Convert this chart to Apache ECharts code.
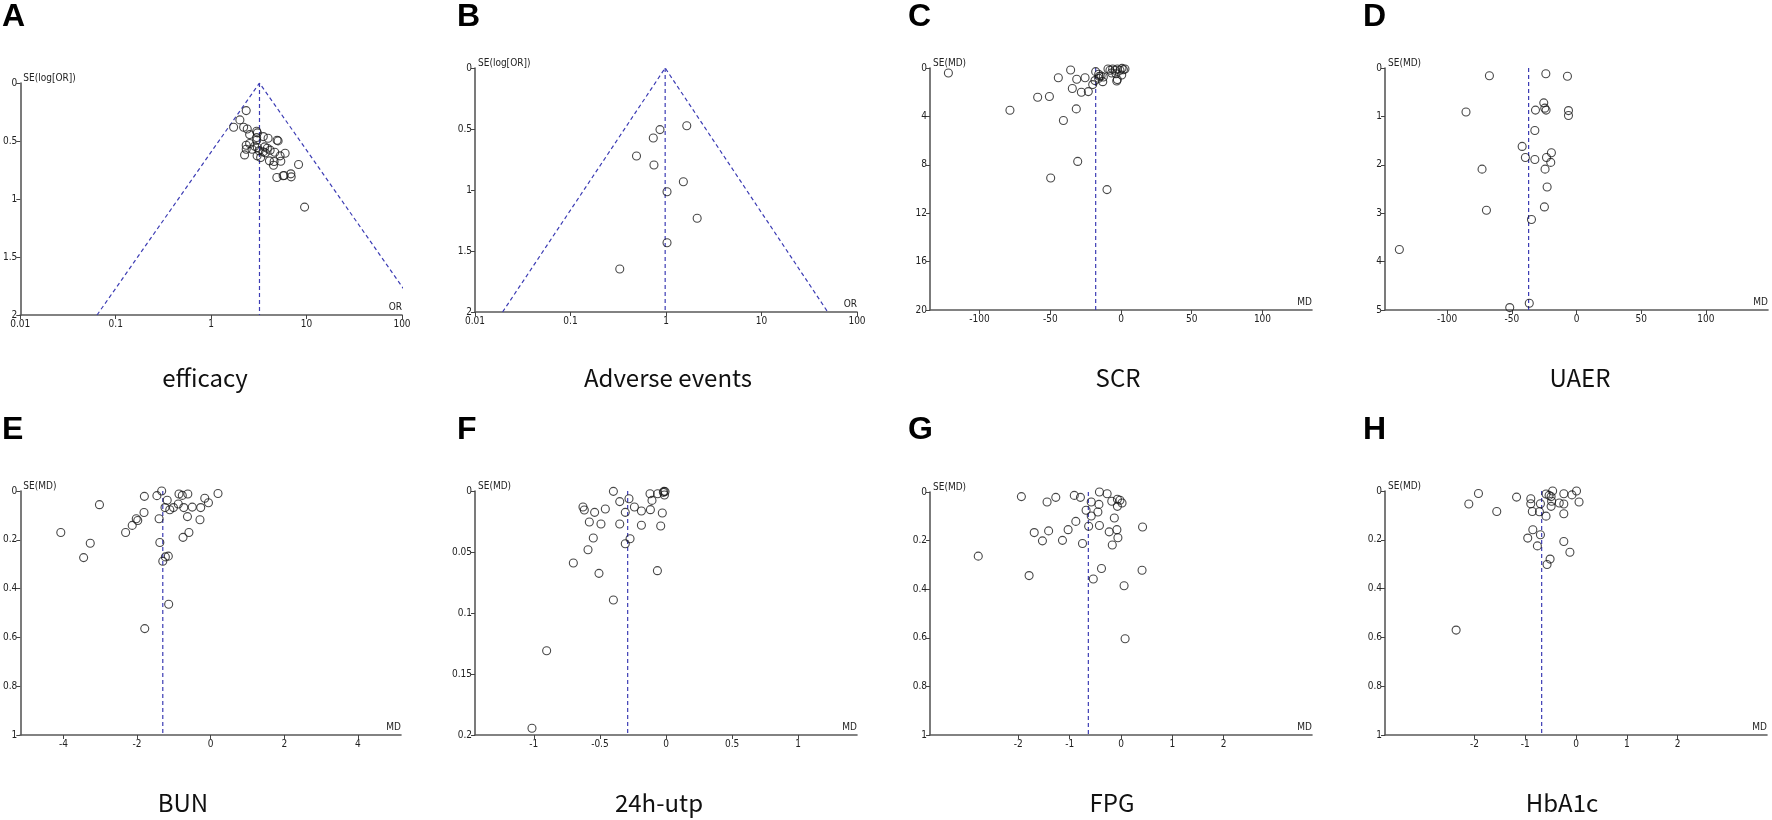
<!DOCTYPE html>
<html><head><meta charset="utf-8">
<script src="https://cdn.jsdelivr.net/npm/echarts@6/dist/echarts.min.js"></script>
<style>html,body{margin:0;padding:0;background:#fff}#c{width:1772px;height:820px}</style>
</head><body><div id="c"></div>
<script>
// ---------- DATA ----------
// [effect, SE]
const efficacyPoints = [[2.33,0.238],[2.0,0.318],[1.72,0.382],[2.19,0.382],[2.39,0.396],[3.0,0.416],[3.05,0.43],[2.53,0.445],[3.0,0.470],[3.52,0.462],[3.95,0.476],[4.91,0.493],[5.03,0.499],[3.0,0.493],[2.53,0.522],[2.33,0.536],[2.86,0.545],[3.05,0.556],[3.64,0.551],[3.88,0.562],[4.15,0.579],[2.33,0.571],[2.68,0.571],[3.18,0.585],[3.50,0.594],[3.70,0.602],[4.64,0.597],[5.96,0.605],[5.28,0.628],[2.24,0.620],[3.03,0.628],[3.30,0.643],[4.08,0.671],[4.57,0.677],[5.37,0.674],[4.50,0.709],[8.24,0.703],[4.88,0.815],[5.68,0.800],[5.82,0.797],[6.84,0.783],[6.90,0.809],[9.53,1.070]];
const adversePoints = [[1.65,0.473],[0.865,0.505],[0.736,0.574],[0.491,0.721],[0.748,0.795],[1.52,0.932],[1.025,1.014],[2.12,1.232],[1.025,1.432],[0.328,1.648]];
const scrPoints = [[-122.0,0.41],[-78.5,3.49],[-58.9,2.42],[-50.6,2.36],[-44.3,0.80],[-35.6,0.16],[-31.3,0.93],[-25.4,0.80],[-34.4,1.70],[-28.0,2.0],[-23.1,1.95],[-20.0,1.37],[-31.6,3.38],[-40.7,4.34],[-30.6,7.72],[-49.7,9.09],[-9.9,10.05],[-17.9,0.30],[-18.4,1.04],[-15.8,0.52],[-15.3,0.68],[-12.9,1.13],[-14.1,0.66],[-15.8,0.85],[-12.5,0.74],[-9.2,0.08],[-7.8,0.19],[-5.9,0.08],[-4.2,0.19],[-2.6,0.08],[-0.7,0.19],[0.7,0.03],[1.7,0.14],[2.8,0.08],[-6.6,0.41],[-3.5,0.47],[0.5,0.58],[-3.0,1.07],[-2.6,0.96]];
const uaerPoints = [[-67.3,0.16],[-23.7,0.12],[-7.0,0.17],[-85.4,0.91],[-25.3,0.72],[-24.5,0.83],[-23.5,0.87],[-31.7,0.87],[-6.2,0.88],[-6.2,0.98],[-32.2,1.29],[-42.0,1.62],[-19.4,1.75],[-39.5,1.85],[-32.2,1.89],[-23.2,1.85],[-19.9,1.95],[-73.0,2.09],[-24.3,2.09],[-22.7,2.46],[-69.6,2.94],[-24.8,2.87],[-34.8,3.13],[-136.9,3.75],[-51.6,4.95],[-36.5,4.86]];
const bunPoints = [[-4.07,0.170],[-3.45,0.273],[-3.27,0.214],[-3.02,0.056],[-2.31,0.170],[-2.13,0.141],[-2.02,0.114],[-1.98,0.121],[-1.81,0.088],[-1.80,0.022],[-1.46,0.019],[-1.33,0.0],[-1.40,0.114],[-1.38,0.211],[-1.30,0.288],[-1.23,0.270],[-1.15,0.267],[-1.14,0.464],[-1.79,0.564],[-1.18,0.038],[-1.24,0.068],[-1.11,0.077],[-1.01,0.068],[-0.88,0.053],[-0.86,0.012],[-0.77,0.018],[-0.62,0.012],[-0.73,0.068],[-0.50,0.066],[-0.63,0.105],[-0.75,0.190],[-0.59,0.170],[-0.29,0.118],[-0.27,0.068],[-0.16,0.030],[-0.06,0.048],[0.20,0.010]];
const utpPoints = [[-0.398,0.0003],[-0.350,0.0087],[-0.280,0.0063],[-0.628,0.0131],[-0.618,0.0156],[-0.540,0.0175],[-0.459,0.0148],[-0.308,0.0175],[-0.239,0.0131],[-0.186,0.0164],[-0.118,0.0153],[-0.121,0.0022],[-0.063,0.0022],[-0.106,0.0077],[-0.028,0.0180],[-0.015,0.0003],[-0.007,0.0005],[-0.020,0.0011],[-0.012,0.0033],[-0.580,0.0254],[-0.492,0.0270],[-0.350,0.0270],[-0.186,0.0281],[-0.040,0.0287],[-0.550,0.0385],[-0.272,0.0391],[-0.308,0.0432],[-0.590,0.0481],[-0.701,0.0590],[-0.507,0.0675],[-0.065,0.0653],[-0.398,0.0893],[-0.903,0.131],[-1.014,0.1945]];
const fpgPoints = [[-2.78,0.264],[-1.94,0.019],[-1.79,0.344],[-1.69,0.167],[-1.53,0.201],[-1.44,0.041],[-1.41,0.160],[-1.27,0.022],[-1.14,0.199],[-1.03,0.155],[-0.91,0.014],[-0.88,0.121],[-0.79,0.022],[-0.75,0.212],[-0.68,0.075],[-0.63,0.141],[-0.58,0.041],[-0.58,0.099],[-0.54,0.358],[-0.45,0.082],[-0.43,0.051],[-0.42,0.0],[-0.42,0.138],[-0.38,0.315],[-0.27,0.007],[-0.23,0.164],[-0.18,0.038],[-0.17,0.218],[-0.13,0.107],[-0.08,0.155],[-0.07,0.030],[-0.07,0.059],[-0.06,0.188],[-0.02,0.034],[0.02,0.045],[0.06,0.386],[0.08,0.604],[0.41,0.322],[0.42,0.144]];
const hba1cPoints = [[-2.36,0.570],[-2.11,0.053],[-1.92,0.010],[-1.56,0.084],[-1.17,0.025],[-0.89,0.032],[-0.89,0.052],[-0.86,0.084],[-0.85,0.159],[-0.95,0.193],[-0.76,0.225],[-0.70,0.179],[-0.72,0.085],[-0.70,0.052],[-0.59,0.103],[-0.59,0.012],[-0.53,0.018],[-0.49,0.023],[-0.46,0.0],[-0.48,0.042],[-0.49,0.063],[-0.51,0.279],[-0.57,0.301],[-0.33,0.049],[-0.24,0.011],[-0.24,0.053],[-0.24,0.093],[-0.24,0.207],[-0.12,0.251],[-0.08,0.016],[0.01,0.0],[0.06,0.045]];

// pooled estimates (vertical dashed line), one per panel A..H
const pooled = [3.21, 0.98, -17.9, -37.0, -1.30, -0.29, -0.636, -0.676];
const panelLetters = ['A','B','C','D','E','F','G','H'];
const panelTitles = ['efficacy','Adverse events','SCR','UAER','BUN','24h-utp','FPG','HbA1c'];
const yNames = ['SE(log[OR])','SE(log[OR])','SE(MD)','SE(MD)','SE(MD)','SE(MD)','SE(MD)','SE(MD)'];
const xNames = ['OR','OR','MD','MD','MD','MD','MD','MD'];
// y axis (SE) max and tick step
const yMaxes = [2, 2, 20, 5, 1, 0.2, 1, 1];
const ySteps = [0.5, 0.5, 4, 1, 0.2, 0.05, 0.2, 0.2];
// x axis half-range (MD panels) and tick labels
const xHalfRange = [null, null, 135, 148, 5.17, 1.445, 3.72, 3.76];
const xTickLabels = [null, null, [-100,-50,0,50,100], [-100,-50,0,50,100], [-4,-2,0,2,4], [-1,-0.5,0,0.5,1], [-2,-1,0,1,2], [-2,-1,0,1,2]];
const pointSets = [efficacyPoints, adversePoints, scrPoints, uaerPoints, bunPoints, utpPoints, fpgPoints, hba1cPoints];

// ---------- LAYOUT ----------
const gridPos = [
  {left:20, top:83, width:382, height:232},
  {left:475, top:68, width:382, height:244},
  {left:930, top:68, width:382, height:242},
  {left:1385, top:68, width:383, height:242},
  {left:20, top:491, width:381, height:244},
  {left:475, top:491, width:382, height:244},
  {left:930, top:492, width:382, height:243},
  {left:1385, top:491, width:382, height:244}
];
const letterPos = [[2,1],[457,1],[908,1],[1363,1],[2,414],[457,414],[908,414],[1363,414]];
const titlePos = [[205,366],[668,366],[1118,366],[1580,366],[183,791],[659,791],[1112,791],[1562,791]];

const tickFont = '"Liberation Sans Narrow","DejaVu Sans Condensed","Liberation Sans",Arial,sans-serif';
const axisColor = '#5a5a5a';
const blue = '#3c3cb4';

const grids = [], xAxes = [], yAxes = [], series = [], titles = [];
for (let i = 0; i < 8; i++) {
  grids.push(Object.assign({containLabel:false, show:false}, gridPos[i]));
  const isLog = i < 2;
  const xa = {
    gridIndex:i, name:xNames[i], nameLocation:'end', nameGap:0,
    nameTextStyle:{fontSize:10, color:'#222', fontFamily:tickFont, align:'right', verticalAlign:'bottom', padding:[0,0,3,0]},
    axisLine:{onZero:false, lineStyle:{color:axisColor, width:1.6}},
    axisTick:{length:4, lineStyle:{color:'#444'}},
    splitLine:{show:false},
    axisLabel:{fontSize:10, color:'#222', fontFamily:tickFont, margin:4}
  };
  if (isLog) {
    Object.assign(xa, {type:'log', logBase:10, min:0.01, max:100});
    xa.axisLabel.formatter = v => String(+(+v).toPrecision(4));
  } else {
    Object.assign(xa, {type:'value', min:-xHalfRange[i], max:xHalfRange[i]});
    xa.axisLabel.customValues = xTickLabels[i];
    xa.axisTick.customValues = xTickLabels[i];
    xa.axisLabel.formatter = v => String(+(+v).toPrecision(4));
  }
  xAxes.push(xa);
  yAxes.push({
    gridIndex:i, type:'value', inverse:true, min:0, max:yMaxes[i], interval:ySteps[i],
    name:yNames[i], nameLocation:'start', nameGap:0,
    nameTextStyle:{fontSize:10, color:'#222', fontFamily:tickFont, align:'left', verticalAlign:'bottom', padding:[0,0,0,3]},
    axisLine:{onZero:false, lineStyle:{color:axisColor, width:1.6}},
    axisTick:{length:4, lineStyle:{color:'#444'}},
    splitLine:{show:false},
    axisLabel:{fontSize:10, color:'#222', fontFamily:tickFont, margin:3, formatter:v => String(+(+v).toPrecision(4))}
  });
  const p = pooled[i];
  const ym = yMaxes[i];
  // vertical pooled-estimate line
  series.push({type:'line', xAxisIndex:i, yAxisIndex:i, symbol:'none', silent:true, z:2,
    data:[[p,0],[p,ym]], lineStyle:{type:[4,3], color:blue, width:1.2}});
  if (isLog) {
    // 95% pseudo-confidence funnel around the pooled log OR
    const lp = Math.log(p);
    series.push({type:'line', xAxisIndex:i, yAxisIndex:i, symbol:'none', silent:true, z:2, clip:true,
      data:[[Math.exp(lp - 1.96*ym), ym],[p,0],[Math.exp(lp + 1.96*ym), ym]],
      lineStyle:{type:[4,3], color:blue, width:1.2}});
  }
  series.push({type:'scatter', xAxisIndex:i, yAxisIndex:i, symbol:'circle', symbolSize:8, clip:false, z:5,
    data:pointSets[i],
    itemStyle:{color:'rgba(255,255,255,0)', borderColor:'#1a1a1a', borderWidth:1.1}});
  titles.push({text:panelLetters[i], left:letterPos[i][0], top:letterPos[i][1], padding:0,
    textStyle:{fontSize:32, fontWeight:'bold', color:'#000', fontFamily:'"Liberation Sans",Arial,sans-serif'}});
  titles.push({text:panelTitles[i], left:titlePos[i][0], top:titlePos[i][1], padding:0, textAlign:'center',
    textStyle:{fontSize:24, fontWeight:'normal', color:'#111', fontFamily:'"Noto Sans CJK SC","Noto Sans",sans-serif'}});
}

const chart = echarts.init(document.getElementById('c'), null, {renderer:'canvas'});
chart.setOption({
  animation:false, backgroundColor:'#fff',
  title:titles, grid:grids, xAxis:xAxes, yAxis:yAxes, series:series
});
</script></body></html>
